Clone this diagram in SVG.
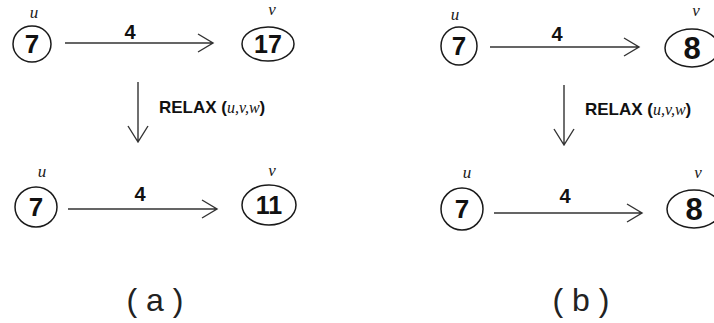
<svg xmlns="http://www.w3.org/2000/svg" width="714" height="323" viewBox="0 0 714 323">
<style>
.shape{fill:none;stroke:#1a1a1a;stroke-width:1.5}
.edge{fill:none;stroke:#333;stroke-width:1.4}
.num{font-family:"Liberation Sans",Arial,sans-serif;font-weight:bold;fill:#111;text-anchor:middle}
.w{font-family:"Liberation Sans",Arial,sans-serif;font-weight:bold;font-size:20px;fill:#111;text-anchor:middle}
.scr{font-family:"Liberation Serif","Times New Roman",serif;font-style:italic;font-size:17px;fill:#1a1a1a;text-anchor:middle}
.relax{font-family:"Liberation Sans",Arial,sans-serif;font-weight:bold;font-size:17px;fill:#111}
.cap{font-family:"Liberation Sans",Arial,sans-serif;font-size:32px;fill:#222;text-anchor:middle}
</style>
<rect width="714" height="323" fill="#fff"/>
<g id="edges">
  <path class="edge" d="M65,43 H213 M198,34 L213,43 L198,52"/>
  <path class="edge" d="M68,209 H217 M202,200 L217,209 L202,218"/>
  <path class="edge" d="M490,47 H639 M624,38 L639,47 L624,56"/>
  <path class="edge" d="M494,213 H642 M627,204 L642,213 L627,222"/>
  <path class="edge" d="M138,82 V142 M128,126 L138,142 L148,126"/>
  <path class="edge" d="M564,85 V145 M554,129 L564,145 L574,129"/>
</g>
<g id="a-u-top">
  <ellipse class="shape" cx="32" cy="44" rx="19" ry="18"/>
  <text class="num" x="32" y="53" font-size="26">7</text>
  <text class="scr" x="34" y="18">u</text>
</g>
<g id="a-v-top">
  <ellipse class="shape" cx="268" cy="44" rx="26" ry="17"/>
  <text class="num" x="268" y="53" font-size="25">17</text>
  <text class="scr" x="272" y="15">v</text>
</g>
<g id="a-u-bottom">
  <ellipse class="shape" cx="36" cy="207" rx="21" ry="20"/>
  <text class="num" x="36" y="216" font-size="26">7</text>
  <text class="scr" x="42" y="177">u</text>
</g>
<g id="a-v-bottom">
  <ellipse class="shape" cx="269" cy="205" rx="27" ry="20"/>
  <text class="num" x="269" y="214" font-size="25">11</text>
  <text class="scr" x="272" y="176">v</text>
</g>
<g id="b-u-top">
  <ellipse class="shape" cx="459" cy="46" rx="18" ry="19"/>
  <text class="num" x="459" y="55" font-size="26">7</text>
  <text class="scr" x="455" y="20">u</text>
</g>
<g id="b-v-top">
  <ellipse class="shape" cx="692" cy="48" rx="27" ry="19"/>
  <text class="num" x="692" y="59" font-size="31">8</text>
  <text class="scr" x="696" y="16">v</text>
</g>
<g id="b-u-bottom">
  <ellipse class="shape" cx="462" cy="209" rx="21" ry="21"/>
  <text class="num" x="462" y="218" font-size="26">7</text>
  <text class="scr" x="467" y="178">u</text>
</g>
<g id="b-v-bottom">
  <ellipse class="shape" cx="694" cy="209" rx="27" ry="19"/>
  <text class="num" x="694" y="220" font-size="31">8</text>
  <text class="scr" x="698" y="178">v</text>
</g>
<g id="labels">
  <text class="w" x="130" y="39">4</text>
  <text class="w" x="140" y="201">4</text>
  <text class="w" x="557" y="41">4</text>
  <text class="w" x="565" y="203">4</text>
  <text class="relax" x="159" y="113">RELAX (<tspan font-family="Liberation Serif,serif" font-style="italic" font-weight="normal" font-size="16">u,v,w</tspan>)</text>
  <text class="relax" x="585" y="115">RELAX (<tspan font-family="Liberation Serif,serif" font-style="italic" font-weight="normal" font-size="16">u,v,w</tspan>)</text>
  <text class="cap" x="155" y="311">( a )</text>
  <text class="cap" x="581" y="311">( b )</text>
</g>
</svg>
